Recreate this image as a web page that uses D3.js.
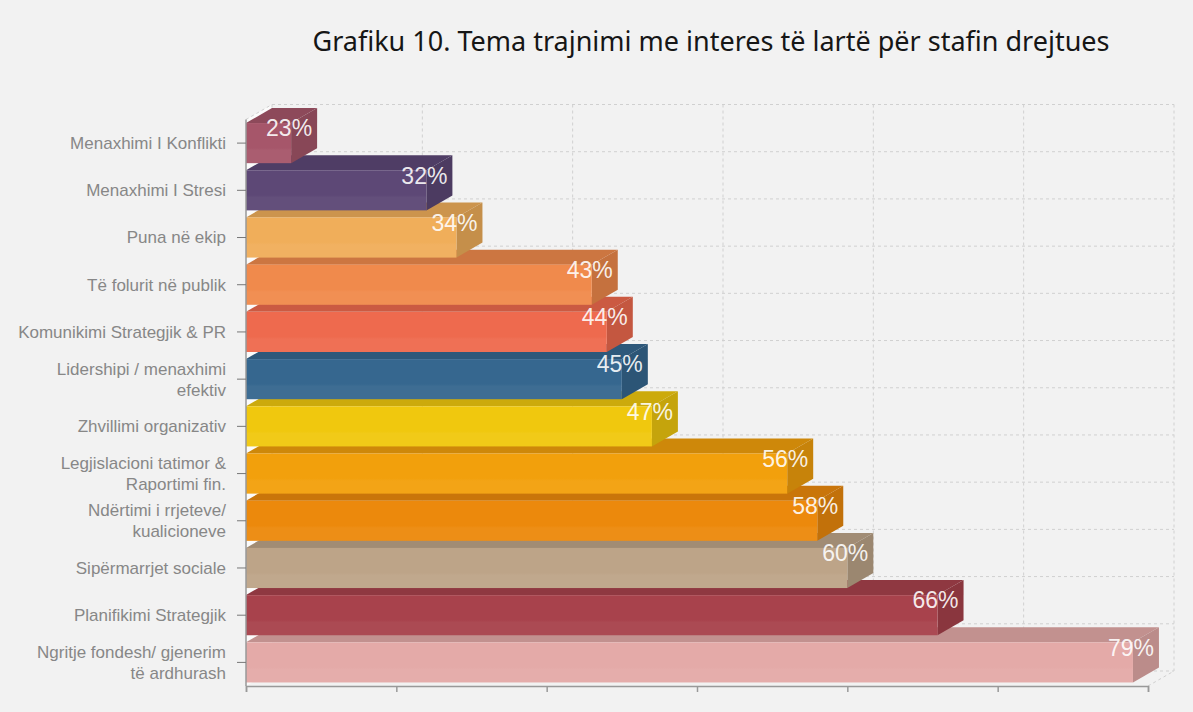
<!DOCTYPE html>
<meta charset="utf-8">
<style>
body {
  margin: 0;
  background: #f2f2f2;
  font-family: "Liberation Sans", Arial, sans-serif;
}
.title {
  font-family: "Noto Sans", sans-serif;
  font-size: 27px;
  fill: #161616;
}
.gridline {
  fill: none;
  stroke: #d0d0d0;
  stroke-width: 1px;
  stroke-dasharray: 3,3;
}
.axis path,
.axis line {
  fill: none;
  stroke: #999;
  stroke-width: 1.5px;
}
.catlabel {
  font-size: 17px;
  fill: #878787;
}
.vallabel {
  font-size: 23px;
  fill: #ffffff;
  fill-opacity: 0.9;
}
</style>
<body>
<div id="chart"></div>

<script src="https://cdnjs.cloudflare.com/ajax/libs/d3/7.8.5/d3.min.js"></script>
<script>
// data (top to bottom)
var categories = [
  "Menaxhimi I Konflikti",
  "Menaxhimi I Stresi",
  "Puna në ekip",
  "Të folurit në publik",
  "Komunikimi Strategjik & PR",
  "Lidershipi / menaxhimi\nefektiv",
  "Zhvillimi organizativ",
  "Legjislacioni tatimor &\nRaportimi fin.",
  "Ndërtimi i rrjeteve/\nkualicioneve",
  "Sipërmarrjet sociale",
  "Planifikimi Strategjik",
  "Ngritje fondesh/ gjenerim\ntë ardhurash"
];
var values = [23, 32, 34, 43, 44, 45, 47, 56, 58, 60, 66, 79];
var colors = ["#a6566a", "#5d4876", "#f0ae5a", "#f08a4c", "#ee6a4e", "#36678f",
              "#f0c80e", "#f2a00c", "#ec890c", "#bda488", "#a8424c", "#e4aaa8"];
var xTicks = [20, 30, 40, 50, 60, 70, 80];
var titleText = "Grafiku 10. Tema trajnimi me interes të lartë për stafin drejtues";

var width = 1193, height = 712;
// front plane of the plot
var plot = {left: 246, right: 1148, top: 119.5, bottom: 686};
// 3d depth offset
var dx = 26, dy = -15;

var svg = d3.select("#chart").append("svg")
    .attr("width", width)
    .attr("height", height);

var x = d3.scaleLinear().domain([20, 80]).range([plot.left, plot.right]);
var y = d3.scaleBand().domain(categories)
    .range([plot.top, plot.bottom])
    .paddingInner(0.15)
    .paddingOuter(0.075);
var bw = y.bandwidth();
var step = y.step();

// title
svg.append("text")
    .attr("class", "title")
    .attr("x", 711)
    .attr("y", 51)
    .attr("text-anchor", "middle")
    .text(titleText);

// left wall (shows through in the gaps between bars)
svg.append("path")
    .attr("fill", "#fbfbfb")
    .attr("d", "M" + plot.left + "," + plot.top +
               "L" + (plot.left + dx) + "," + (plot.top + dy) +
               "L" + (plot.left + dx) + "," + (plot.bottom + dy) +
               "L" + plot.left + "," + plot.bottom + "Z");

// back wall grid
var grid = svg.append("g");
grid.selectAll(".vgrid")
    .data(xTicks)
  .enter().append("line")
    .attr("class", "gridline")
    .attr("x1", function(d) { return x(d) + dx; })
    .attr("x2", function(d) { return x(d) + dx; })
    .attr("y1", plot.top + dy)
    .attr("y2", plot.bottom + dy);
var bounds = d3.range(categories.length + 1).map(function(i) {
  return plot.top + i * step;
});
grid.selectAll(".hgrid")
    .data(bounds)
  .enter().append("line")
    .attr("class", "gridline")
    .attr("x1", x(20) + dx)
    .attr("x2", x(80) + dx)
    .attr("y1", function(d) { return d + dy; })
    .attr("y2", function(d) { return d + dy; });
// diagonals of the box
grid.append("line")
    .attr("class", "gridline")
    .attr("x1", plot.left).attr("y1", plot.top)
    .attr("x2", plot.left + dx).attr("y2", plot.top + dy);
grid.append("line")
    .attr("class", "gridline")
    .attr("x1", plot.right).attr("y1", plot.bottom)
    .attr("x2", plot.right + dx).attr("y2", plot.bottom + dy);

// gradients for the front faces
var defs = svg.append("defs");
colors.forEach(function(c, i) {
  var g = defs.append("linearGradient")
      .attr("id", "grad" + i)
      .attr("x1", 0).attr("y1", 0).attr("x2", 0).attr("y2", 1);
  var light = d3.interpolateRgb(c, "#ffffff")(0.04);
  g.append("stop").attr("offset", "0%").attr("stop-color", c);
  g.append("stop").attr("offset", "62%").attr("stop-color", c);
  g.append("stop").attr("offset", "68%").attr("stop-color", light);
  g.append("stop").attr("offset", "100%").attr("stop-color", light);
});

var data = categories.map(function(c, i) {
  return {cat: c, value: values[i], color: colors[i], i: i};
});

// bars: draw bottom ones first so upper bars sit in front
var bars = svg.selectAll(".bar")
    .data(data.slice().reverse())
  .enter().append("g")
    .attr("class", "bar");

bars.append("path")
    .attr("fill", function(d) { return d3.color(d.color).darker(0.45); })
    .attr("d", function(d) {
      var x0 = x(20), x1 = x(d.value), y0 = y(d.cat);
      return "M" + x0 + "," + y0 + "L" + x1 + "," + y0 +
             "L" + (x1 + dx) + "," + (y0 + dy) + "L" + (x0 + dx) + "," + (y0 + dy) + "Z";
    });
bars.append("path")
    .attr("fill", function(d) { return d3.color(d.color).darker(0.55); })
    .attr("d", function(d) {
      var x1 = x(d.value), y0 = y(d.cat), y1 = y0 + bw;
      return "M" + x1 + "," + y0 + "L" + (x1 + dx) + "," + (y0 + dy) +
             "L" + (x1 + dx) + "," + (y1 + dy) + "L" + x1 + "," + y1 + "Z";
    });
bars.append("rect")
    .attr("x", x(20))
    .attr("y", function(d) { return y(d.cat); })
    .attr("width", function(d) { return x(d.value) - x(20); })
    .attr("height", bw)
    .attr("fill", function(d) { return "url(#grad" + d.i + ")"; });

// value labels
svg.selectAll(".vallabel")
    .data(data)
  .enter().append("text")
    .attr("class", "vallabel")
    .attr("x", function(d) { return x(d.value) + dx - 5; })
    .attr("y", function(d) { return y(d.cat) + bw / 2 + dy; })
    .attr("dy", "0.36em")
    .attr("text-anchor", "end")
    .text(function(d) { return d.value + "%"; });

// bottom axis
svg.append("g")
    .attr("class", "axis")
    .attr("transform", "translate(0," + plot.bottom + ")")
    .call(d3.axisBottom(x).tickValues(xTicks).tickSize(6).tickFormat(""));

// left axis with wrapped labels
var yAxis = svg.append("g")
    .attr("class", "axis")
    .attr("transform", "translate(" + plot.left + ",0)")
    .call(d3.axisLeft(y).tickSize(9).tickSizeOuter(0).tickFormat(""));
yAxis.select(".domain")
    .attr("d", "M0," + plot.top + "V" + plot.bottom);
yAxis.selectAll(".tick line").style("stroke-width", "1px").style("stroke", "#777");

var labels = svg.selectAll(".catlabel")
    .data(categories)
  .enter().append("text")
    .attr("class", "catlabel")
    .attr("text-anchor", "end")
    .attr("transform", function(d) {
      return "translate(226," + (y(d) + bw / 2) + ")";
    });
labels.each(function(d) {
  var lines = d.split("\n");
  var t = d3.select(this);
  lines.forEach(function(l, k) {
    t.append("tspan")
        .attr("x", 0)
        .attr("y", (k - (lines.length - 1) / 2) * 21)
        .attr("dy", "0.35em")
        .text(l);
  });
});
</script>
</body>
